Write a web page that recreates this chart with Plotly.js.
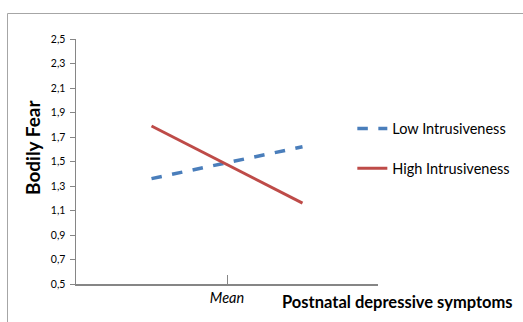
<!DOCTYPE html>
<html><head><meta charset="utf-8">
<script src="https://cdn.plot.ly/plotly-3.0.1.min.js"></script>
<style>html,body{margin:0;padding:0;background:#fff}#c{width:523px;height:322px}</style>
</head><body><div id="c"></div>
<script>
const xPos = [0, 1];
const lowIntrusiveness = [1.36, 1.62];
const highIntrusiveness = [1.79, 1.16];
const yTickVals = [0.5,0.7,0.9,1.1,1.3,1.5,1.7,1.9,2.1,2.3,2.5];
const yTickText = ["0,5","0,7","0,9","1,1","1,3","1,5","1,7","1,9","2,1","2,3","2,5"];
const seriesNames = ["Low Intrusiveness","High Intrusiveness"];
const xTickVals = [0.5];
const xTickText = ["Mean"];

const FONT = "Lato, 'Open Sans', sans-serif";
const traces = [
  {x: xPos, y: lowIntrusiveness, name: seriesNames[0], mode: "lines", legendgroup: "a",
   line: {color: "#4A7EBB", width: 3.5, dash: "dash"}},
  {x: xPos, y: highIntrusiveness, name: seriesNames[1], mode: "lines", legendgroup: "b",
   line: {color: "#BE4B48", width: 3}}
];
const layout = {
  width: 523, height: 322,
  margin: {l: 76, r: 145, t: 39, b: 38, autoexpand: false},
  paper_bgcolor: "#fff", plot_bgcolor: "#fff",
  font: {family: FONT, color: "#000"},
  showlegend: true,
  legend: {x: 0.915, y: 0.70, xanchor: "left", yanchor: "top", tracegroupgap: 18,
    font: {size: 14.5, family: FONT, color: "#000"}, bgcolor: "rgba(0,0,0,0)"},
  xaxis: {range: [-0.5, 1.5], tickvals: xTickVals, ticktext: xTickText, ticks: "inside", ticklen: 9,
    tickcolor: "#868686", tickwidth: 1, showline: true, linecolor: "#868686", linewidth: 1.5,
    showgrid: false, zeroline: false, tickfont: {size: 14.5, family: FONT, style: "italic"}, fixedrange: true},
  yaxis: {range: [0.5, 2.5], tickvals: yTickVals, ticktext: yTickText, ticks: "outside", ticklen: 5,
    tickcolor: "#868686", tickwidth: 1, showline: true, linecolor: "#868686", linewidth: 1.5,
    showgrid: false, zeroline: false, tickfont: {size: 10.5, family: FONT}, ticklabelstandoff: 2,
    fixedrange: true},
  annotations: [
    {text: "<b>Postnatal depressive symptoms</b>", xref: "paper", yref: "paper",
     x: (397-76)/302, y: -(302-284)/245, xanchor: "center", yanchor: "middle", showarrow: false,
     font: {size: 16.5, family: FONT}},
    {text: "<b>Bodily Fear</b>", xref: "paper", yref: "paper", textangle: -90,
     x: (32-76)/302, y: (284-148)/245, xanchor: "center", yanchor: "middle", showarrow: false,
     font: {size: 19, family: FONT}}
  ],
  shapes: [
    {type: "line", xref: "paper", yref: "paper", x0: (7.5-76)/302, x1: (530-76)/302,
     y0: (284-13.5)/245, y1: (284-13.5)/245, line: {color: "#a6a6a6", width: 1}},
    {type: "line", xref: "paper", yref: "paper", x0: (7.5-76)/302, x1: (7.5-76)/302,
     y0: (284-13.5)/245, y1: -0.3, line: {color: "#a6a6a6", width: 1}}
  ]
};
Plotly.newPlot("c", traces, layout, {staticPlot: true, displayModeBar: false});
</script></body></html>
